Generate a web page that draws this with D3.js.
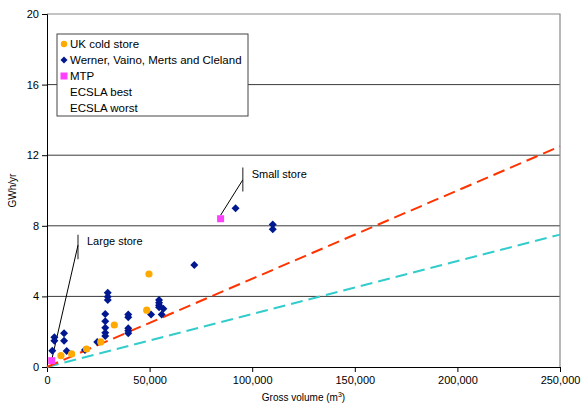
<!DOCTYPE html>
<html>
<head>
<meta charset="utf-8">
<script src="https://cdn.jsdelivr.net/npm/d3@7"></script>
<style>
  body { margin: 0; background: #fff; }
  svg, svg text { font-family: "Liberation Sans", Arial, sans-serif; }
</style>
</head>
<body>
<div id="chart"></div>
<script>
// data (x: gross volume m3, y: GWh/yr)
const ukColdStore = [
  [6800, 0.64], [12000, 0.74], [19300, 1.02], [26200, 1.42],
  [32800, 2.38], [48600, 3.22], [49700, 5.27]
]
const werner = [
  [2600, 0.92], [3600, 1.68], [3600, 1.49], [8300, 1.91], [8300, 1.49],
  [9600, 0.91], [18500, 0.96], [24500, 1.42],
  [28400, 3.0], [28400, 2.59], [28400, 2.23], [28400, 1.94], [28400, 1.76],
  [29600, 4.21], [29600, 3.98], [29600, 3.8],
  [39600, 2.98], [39600, 2.82], [39600, 2.19], [39600, 2.06], [39600, 1.91],
  [50700, 2.98], [54600, 3.8], [54600, 3.64], [54600, 3.5], [54600, 3.38],
  [55900, 2.98], [56700, 3.3], [71800, 5.78], [91900, 9.0],
  [110000, 8.08], [110000, 7.8]
]
const mtp = [[2300, 0.36], [84600, 8.4]]
const ecslaBest = [[0, 0], [250000, 7.5]]
const ecslaWorst = [[0, 0], [250000, 12.5]]
const xTicks = [0, 50000, 100000, 150000, 200000, 250000]
const yTicks = [0, 4, 8, 12, 16, 20]
const legendItems = ['UK cold store', 'Werner, Vaino, Merts and Cleland', 'MTP', 'ECSLA best', 'ECSLA worst']

const width = 581
const height = 414
const margin = { top: 14, right: 21, bottom: 47, left: 47 }

const svg = d3.select('#chart').append('svg')
  .attr('width', width)
  .attr('height', height)

const x = d3.scaleLinear().domain([0, 250000]).range([margin.left, width - margin.right])
const y = d3.scaleLinear().domain([0, 20]).range([height - margin.bottom, margin.top])

// gridlines
svg.append('g')
  .selectAll('line')
  .data(yTicks.filter(d => d > 0 && d < 20))
  .enter()
  .append('line')
  .attr('x1', x(0)).attr('x2', x(250000))
  .attr('y1', d => y(d)).attr('y2', d => y(d))
  .attr('stroke', '#3a3a3a')
  .attr('stroke-width', 1)

// plot border (top + right)
svg.append('path')
  .attr('d', `M${x(0)},${y(20)}H${x(250000)}V${y(0)}`)
  .attr('fill', 'none')
  .attr('stroke', '#888')
  .attr('stroke-width', 1.2)

// axes
const fmt = d3.format(',')
const xAxis = svg.append('g')
  .attr('transform', `translate(0,${y(0)})`)
  .call(d3.axisBottom(x).tickValues(xTicks).tickSize(5).tickPadding(4).tickFormat(d => fmt(d)))
const yAxis = svg.append('g')
  .attr('transform', `translate(${x(0)},0)`)
  .call(d3.axisLeft(y).tickValues(yTicks).tickSize(5).tickPadding(3))

;[xAxis, yAxis].forEach(g => {
  g.attr('font-family', null)
  g.select('.domain').attr('stroke', '#000')
  g.selectAll('.tick line').attr('stroke', '#000')
  g.selectAll('.tick text').attr('fill', '#000').style('font-size', '11px')
})

// axis titles
svg.append('text')
  .attr('transform', `translate(16,${(y(0) + y(20)) / 2}) rotate(-90)`)
  .attr('text-anchor', 'middle')
  .style('font-size', '10px')
  .text('GWh/yr')

const xt = svg.append('text')
  .attr('x', (x(0) + x(250000)) / 2)
  .attr('y', 401)
  .attr('text-anchor', 'middle')
  .style('font-size', '10px')
xt.append('tspan').text('Gross volume (m')
xt.append('tspan').attr('dy', -4).style('font-size', '7px').text('3')
xt.append('tspan').attr('dy', 4).text(')')

// ECSLA lines
const line = d3.line().x(d => x(d[0])).y(d => y(d[1]))
svg.append('path').datum(ecslaBest)
  .attr('d', line)
  .attr('fill', 'none')
  .attr('stroke', '#33CCCC')
  .attr('stroke-width', 2)
  .attr('stroke-dasharray', '12,6')
svg.append('path').datum(ecslaWorst)
  .attr('d', line)
  .attr('fill', 'none')
  .attr('stroke', '#FF3300')
  .attr('stroke-width', 2)
  .attr('stroke-dasharray', '12,6')

// annotations (data coordinates)
const callouts = [
  { label: 'Large store', bar: [15100, 7.5, 6.1], from: 6.9, to: [2300, 0.4] },
  { label: 'Small store', bar: [95400, 11.3, 9.95], from: 10.6, to: [84600, 8.6] }
]
const ann = svg.append('g')
callouts.forEach(c => {
  ann.append('line')
    .attr('x1', x(c.bar[0])).attr('x2', x(c.bar[0]))
    .attr('y1', y(c.bar[1])).attr('y2', y(c.bar[2]))
    .attr('stroke', '#666').attr('stroke-width', 1.5)
  ann.append('line')
    .attr('x1', x(c.bar[0])).attr('y1', y(c.from))
    .attr('x2', x(c.to[0])).attr('y2', y(c.to[1]))
    .attr('stroke', '#000').attr('stroke-width', 1)
  ann.append('text')
    .attr('x', x(c.bar[0]) + 9)
    .attr('y', y(c.bar[1]) + 10)
    .style('font-size', '11px')
    .text(c.label)
})

// markers
const diamondPath = 'M0,-4L4,0L0,4L-4,0Z'
svg.append('g').selectAll('path')
  .data(werner)
  .enter()
  .append('path')
  .attr('d', diamondPath)
  .attr('transform', d => `translate(${x(d[0])},${y(d[1])})`)
  .attr('fill', '#00188F')

svg.append('g').selectAll('circle')
  .data(ukColdStore)
  .enter()
  .append('circle')
  .attr('cx', d => x(d[0]))
  .attr('cy', d => y(d[1]))
  .attr('r', 3.6)
  .attr('fill', '#FFAA00')

svg.append('g').selectAll('rect')
  .data(mtp)
  .enter()
  .append('rect')
  .attr('x', d => x(d[0]) - 3.5)
  .attr('y', d => y(d[1]) - 3.5)
  .attr('width', 7)
  .attr('height', 7)
  .attr('fill', '#FF40FF')

// legend
const legend = svg.append('g').attr('transform', 'translate(57,34)')
legend.append('rect')
  .attr('width', 191).attr('height', 82)
  .attr('fill', '#fff')
  .attr('stroke', '#444')
  .attr('stroke-width', 1)
const rows = legend.selectAll('g.row')
  .data(legendItems)
  .enter()
  .append('g')
  .attr('class', 'row')
  .attr('transform', (d, i) => `translate(0,${10 + i * 16})`)
rows.append('text')
  .attr('x', 13)
  .attr('dy', '0.35em')
  .style('font-size', '11.5px')
  .text(d => d)
rows.filter((d, i) => i === 0).append('circle')
  .attr('cx', 7).attr('r', 3.2).attr('fill', '#FFAA00')
rows.filter((d, i) => i === 1).append('path')
  .attr('d', 'M0,-3.5L3.5,0L0,3.5L-3.5,0Z')
  .attr('transform', 'translate(7,0)')
  .attr('fill', '#00188F')
rows.filter((d, i) => i === 2).append('rect')
  .attr('x', 3.5).attr('y', -3.5).attr('width', 7).attr('height', 7)
  .attr('fill', '#FF40FF')
</script>
</body>
</html>
